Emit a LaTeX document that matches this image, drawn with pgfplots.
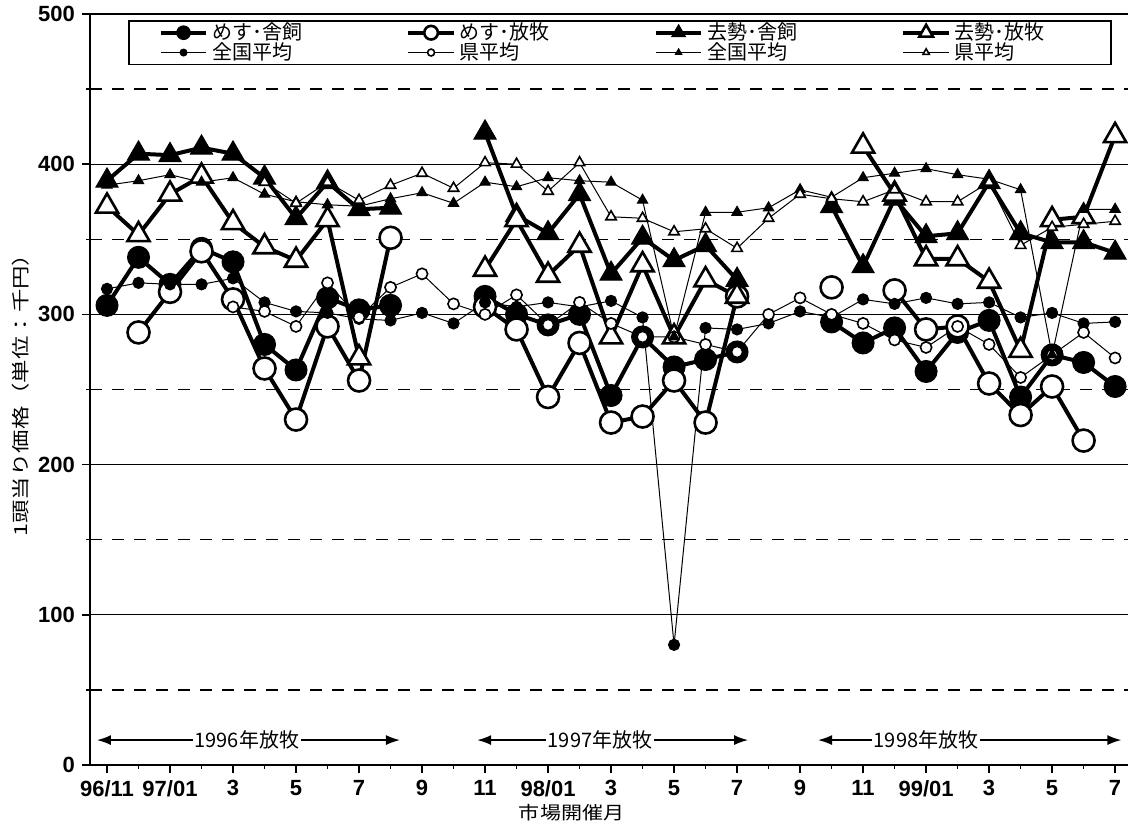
\documentclass[border=0pt]{standalone}
\usepackage{fontspec}
\setmainfont{Liberation Sans}
\newfontfamily\jp{Noto Sans CJK JP}
\usepackage{graphicx}
\usepackage{pgfplots}
\pgfplotsset{compat=1.18}
\usetikzlibrary{arrows.meta}
\begin{document}
\begin{tikzpicture}
\useasboundingbox (0,0) rectangle (564pt,415pt);
\begin{axis}[
  at={(45pt,32.5pt)}, anchor=south west,
  scale only axis, width=519pt, height=375.5pt,
  xmin=-0.54, xmax=32.41, ymin=0, ymax=500,
  axis x line*=bottom, axis y line*=left,
  axis line style={black, line width=0.9pt, -},
  unbounded coords=jump,
  ytick={0,100,...,500}, minor ytick={50,150,...,450},
  ymajorgrids, yminorgrids,
  major grid style={black, line width=0.6pt},
  minor grid style={black, line width=0.6pt, dash pattern=on 6pt off 5pt},
  xtick={0,2,...,32},
  xticklabels={96/11,97/01,3,5,7,9,11,98/01,3,5,7,9,11,99/01,3,5,7},
  minor xtick={1,3,...,31},
  tick align=outside, major tick length=4pt, minor tick length=2pt,
  tick style={black, line width=0.7pt},
  /pgf/number format/assume math mode=true,
  tick label style={font=\bfseries\fontsize{11}{12}\selectfont},
  xlabel={\scalebox{1.17}[1]{市場開催月}},
  xlabel style={font=\jp\fontsize{9}{10}\selectfont, at={(ticklabel cs:0.464)}, anchor=near ticklabel, inner sep=0.5pt},
  ylabel={\scalebox{1.3}[1]{1頭当り価格（単位：千円）}},
  ylabel style={font=\jp\fontsize{9}{10}\selectfont, inner sep=1pt},
  legend columns=4,
  legend style={at={(0.0366,0.992)}, anchor=north west, draw=black, line width=0.8pt,
    font=\jp\fontsize{10}{10}\selectfont, inner xsep=15pt, inner ysep=1pt,
    nodes={inner ysep=0pt},
    /tikz/every even column/.append style={column sep=50pt}},
  legend cell align=left,
  legend image code/.code={\draw[mark repeat=2,mark phase=2] plot coordinates {(0cm,0cm) (0.4cm,0cm) (0.8cm,0cm)};},
  legend image post style={/tikz/every mark/.append style={scale=0.62}},
]
% めす・舎飼
\addplot[black, line width=2pt, mark=*, mark size=5.5pt, mark options={solid, fill=black, line width=0.5pt}] coordinates {
(0,306)(1,338)(2,320)(3,344)(4,335)(5,280)(6,263)(7,311)(8,303)(9,306)(10,nan)
(12,312)(13,300)(14,293)(15,300)(16,246)(17,285)(18,265)(19,270)(20,275)(21,nan)
(23,295)(24,281)(25,291)(26,262)(27,288)(28,296)(29,245)(30,273)(31,268)(32,252)};
\addlegendentry{めす･舎飼}
% めす・放牧
\addplot[black, line width=2pt, mark=*, mark size=5.5pt, mark options={solid, fill=white, line width=1.3pt}] coordinates {
(1,288)(2,315)(3,342)(4,310)(5,264)(6,230)(7,292)(8,256)(9,351)(10,nan)
(12,305)(13,290)(14,245)(15,281)(16,228)(17,232)(18,256)(19,228)(20,312)(21,nan)
(23,318)(24,nan)(25,316)(26,290)(27,292)(28,254)(29,233)(30,252)(31,216)};
\addlegendentry{めす･放牧}
% 去勢・舎飼
\addplot[black, line width=2pt, mark=triangle*, mark size=6.4pt, mark options={solid, fill=black, line width=0.5pt}] coordinates {
(0,389)(1,407)(2,406)(3,411)(4,407)(5,391)(6,364)(7,388)(8,370)(9,371)(10,nan)
(12,421)(13,366)(14,354)(15,380)(16,327)(17,351)(18,336)(19,346)(20,323)(21,nan)
(23,372)(24,332)(25,377)(26,352)(27,354)(28,388)(29,354)(30,348)(31,348)(32,341)};
\addlegendentry{去勢･舎飼}
% 去勢・放牧
\addplot[black, line width=2pt, mark=triangle*, mark size=6.4pt, mark options={solid, fill=white, line width=1.3pt}] coordinates {
(0,372)(1,353)(2,380)(3,392)(4,361)(5,345)(6,336)(7,363)(8,271)(9,nan)
(12,330)(13,363)(14,326)(15,346)(16,285)(17,333)(18,285)(19,323)(20,312)(21,nan)
(24,412)(25,380)(26,337)(27,337)(28,322)(29,276)(30,363)(31,365)(32,419)};
\addlegendentry{去勢･放牧\rule{16pt}{0pt}}
% 全国平均 (めす)
\addplot[black, line width=0.5pt, mark=*, mark size=2.8pt, mark options={solid, fill=black}] coordinates {
(0,317)(1,321)(2,320)(3,320)(4,324)(5,308)(6,302)(7,301)(8,297)(9,296)
(10,301)(11,294)(12,308)(13,305)(14,308)(15,305)(16,309)(17,298)(18,80)(19,291)
(20,290)(21,294)(22,302)(23,298)(24,310)(25,307)(26,311)(27,307)(28,308)(29,298)
(30,301)(31,294)(32,295)};
\addlegendentry{全国平均}
% 県平均 (めす)
\addplot[black, line width=0.5pt, mark=*, mark size=2.8pt, mark options={solid, fill=white, line width=0.8pt}] coordinates {
(4,305)(5,302)(6,292)(7,321)(8,298)(9,318)(10,327)(11,307)(12,300)(13,313)
(14,293)(15,308)(16,294)(17,285)(18,285)(19,280)(20,275)(21,300)(22,311)(23,300)
(24,294)(25,283)(26,278)(27,292)(28,280)(29,258)(30,273)(31,288)(32,271)};
\addlegendentry{県平均}
% 全国平均 (去勢)
\addplot[black, line width=0.5pt, mark=triangle*, mark size=3pt, mark options={solid, fill=black}] coordinates {
(0,386)(1,389)(2,393)(3,388)(4,391)(5,380)(6,375)(7,373)(8,372)(9,377)
(10,381)(11,374)(12,388)(13,385)(14,391)(15,389)(16,388)(17,376)(18,285)(19,368)
(20,368)(21,371)(22,383)(23,378)(24,391)(25,394)(26,397)(27,393)(28,390)(29,383)
(30,273)(31,370)(32,370)};
\addlegendentry{全国平均}
% 県平均 (去勢)
\addplot[black, line width=0.5pt, mark=triangle*, mark size=3pt, mark options={solid, fill=white, line width=0.8pt}] coordinates {
(5,388)(6,374)(7,388)(8,376)(9,386)(10,394)(11,384)(12,401)(13,400)(14,382)
(15,401)(16,365)(17,364)(18,355)(19,357)(20,344)(21,364)(22,380)(23,377)(24,375)
(25,383)(26,375)(27,375)(28,388)(29,346)(30,358)(31,360)(32,362)};
\addlegendentry{県平均}
% 放牧期間の矢印
\draw[{Latex[length=7pt,width=5pt]}-{Latex[length=7pt,width=5pt]}, line width=0.8pt] (axis cs:-0.32,16.6) -- (axis cs:9.3,16.6);
\node[fill=white, inner sep=1pt, font=\jp\fontsize{10}{10}\selectfont] at (axis cs:4.44,16.6) {1996年放牧};
\draw[{Latex[length=7pt,width=5pt]}-{Latex[length=7pt,width=5pt]}, line width=0.8pt] (axis cs:11.75,16.6) -- (axis cs:20.35,16.6);
\node[fill=white, inner sep=1pt, font=\jp\fontsize{10}{10}\selectfont] at (axis cs:15.65,16.6) {1997年放牧};
\draw[{Latex[length=7pt,width=5pt]}-{Latex[length=7pt,width=5pt]}, line width=0.8pt] (axis cs:22.57,16.6) -- (axis cs:32.2,16.6);
\node[fill=white, inner sep=1pt, font=\jp\fontsize{10}{10}\selectfont] at (axis cs:26.0,16.6) {1998年放牧};
\end{axis}
\end{tikzpicture}
\end{document}
